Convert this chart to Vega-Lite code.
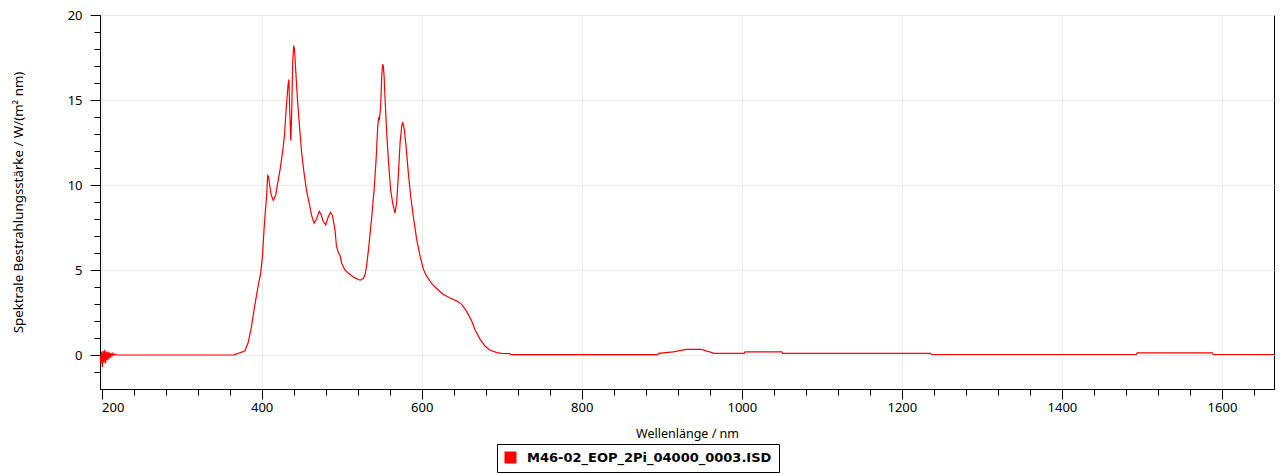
{
  "$schema": "https://vega.github.io/schema/vega-lite/v6.json",
  "width": 1174,
  "height": 374,
  "autosize": "none",
  "padding": {"left": 100, "top": 15, "right": 8, "bottom": 85},
  "background": "white",
  "config": {"view": {"stroke": "black", "strokeWidth": 1}, "font": "Noto Sans"},
  "data": {"values": [
    {"nm": 198, "v": 0}, {"nm": 199, "v": -0.5}, {"nm": 200, "v": 0.2}, {"nm": 201, "v": -0.7},
    {"nm": 202, "v": 0.25}, {"nm": 203, "v": -0.45}, {"nm": 204, "v": 0.3}, {"nm": 205, "v": -0.5},
    {"nm": 206, "v": 0.2}, {"nm": 207, "v": -0.3}, {"nm": 208, "v": 0.2}, {"nm": 209, "v": -0.25},
    {"nm": 210, "v": 0.15}, {"nm": 211, "v": -0.15}, {"nm": 212, "v": 0.1}, {"nm": 213, "v": -0.05},
    {"nm": 214, "v": 0.1}, {"nm": 215, "v": 0.0}, {"nm": 216, "v": 0.05}, {"nm": 218, "v": 0.02},
    {"nm": 220, "v": 0.0}, {"nm": 365, "v": 0.0}, {"nm": 368, "v": 0.05}, {"nm": 372, "v": 0.12},
    {"nm": 376, "v": 0.18}, {"nm": 379, "v": 0.25}, {"nm": 383, "v": 0.7}, {"nm": 387, "v": 1.6},
    {"nm": 391, "v": 2.8}, {"nm": 395, "v": 3.9}, {"nm": 398.7, "v": 4.8}, {"nm": 401, "v": 5.8},
    {"nm": 403, "v": 7.4}, {"nm": 404.5, "v": 8.4}, {"nm": 406, "v": 9.2}, {"nm": 407.5, "v": 10.55},
    {"nm": 408.5, "v": 10.5}, {"nm": 410, "v": 10.0}, {"nm": 412, "v": 9.4}, {"nm": 414.5, "v": 9.1},
    {"nm": 417.5, "v": 9.4}, {"nm": 420, "v": 10.1}, {"nm": 423, "v": 10.9}, {"nm": 426, "v": 11.9},
    {"nm": 428.5, "v": 12.9}, {"nm": 430.5, "v": 14.4}, {"nm": 433, "v": 15.9}, {"nm": 434, "v": 16.2},
    {"nm": 435, "v": 14.5}, {"nm": 436.5, "v": 12.6}, {"nm": 437.5, "v": 14.2}, {"nm": 438.8, "v": 17.2},
    {"nm": 440, "v": 18.2}, {"nm": 441, "v": 18.0}, {"nm": 442, "v": 17.2}, {"nm": 444.5, "v": 15.2},
    {"nm": 447, "v": 13.6}, {"nm": 450, "v": 11.9}, {"nm": 453, "v": 10.7}, {"nm": 456, "v": 9.7},
    {"nm": 459.5, "v": 8.9}, {"nm": 462.5, "v": 8.2}, {"nm": 465.5, "v": 7.75}, {"nm": 468.5, "v": 8.0},
    {"nm": 472, "v": 8.45}, {"nm": 474, "v": 8.3}, {"nm": 477, "v": 7.85}, {"nm": 480, "v": 7.65},
    {"nm": 483, "v": 8.1}, {"nm": 486, "v": 8.4}, {"nm": 488.5, "v": 8.2}, {"nm": 491.5, "v": 7.4},
    {"nm": 493.5, "v": 6.4}, {"nm": 496, "v": 6.0}, {"nm": 498, "v": 5.85}, {"nm": 500, "v": 5.4},
    {"nm": 504, "v": 5.0}, {"nm": 510, "v": 4.75}, {"nm": 516, "v": 4.55}, {"nm": 523, "v": 4.4},
    {"nm": 527, "v": 4.5}, {"nm": 529, "v": 4.7}, {"nm": 531, "v": 5.2}, {"nm": 533.5, "v": 6.2},
    {"nm": 537.5, "v": 8.1}, {"nm": 540.5, "v": 9.7}, {"nm": 543, "v": 11.5}, {"nm": 545, "v": 13.4},
    {"nm": 546.2, "v": 14.0}, {"nm": 547, "v": 13.8}, {"nm": 548.7, "v": 14.6}, {"nm": 550, "v": 16.4},
    {"nm": 551.2, "v": 17.1}, {"nm": 552, "v": 17.0}, {"nm": 553, "v": 16.4}, {"nm": 554.5, "v": 14.8},
    {"nm": 556.2, "v": 13.1}, {"nm": 558.3, "v": 11.5}, {"nm": 561.2, "v": 9.7}, {"nm": 563.7, "v": 8.95},
    {"nm": 566.6, "v": 8.35}, {"nm": 568.7, "v": 8.95}, {"nm": 570.7, "v": 10.5}, {"nm": 573, "v": 12.5},
    {"nm": 575, "v": 13.45}, {"nm": 576.3, "v": 13.7}, {"nm": 578.3, "v": 13.25}, {"nm": 580.4, "v": 12.3},
    {"nm": 583.3, "v": 10.7}, {"nm": 586.2, "v": 9.35}, {"nm": 589.5, "v": 8.15}, {"nm": 593.7, "v": 6.8},
    {"nm": 598, "v": 5.8}, {"nm": 602, "v": 5.05}, {"nm": 606, "v": 4.65}, {"nm": 612.5, "v": 4.2},
    {"nm": 619, "v": 3.9}, {"nm": 627, "v": 3.56}, {"nm": 635, "v": 3.37}, {"nm": 644, "v": 3.17},
    {"nm": 650, "v": 2.98}, {"nm": 656, "v": 2.58}, {"nm": 662.5, "v": 2.0}, {"nm": 666.5, "v": 1.5},
    {"nm": 673, "v": 0.92}, {"nm": 679, "v": 0.53}, {"nm": 685, "v": 0.29}, {"nm": 694, "v": 0.14},
    {"nm": 700, "v": 0.1}, {"nm": 710, "v": 0.08}, {"nm": 712, "v": 0.02}, {"nm": 895, "v": 0.02},
    {"nm": 896, "v": 0.1}, {"nm": 914, "v": 0.18}, {"nm": 931, "v": 0.33}, {"nm": 950, "v": 0.33},
    {"nm": 955, "v": 0.24}, {"nm": 960, "v": 0.18}, {"nm": 965, "v": 0.1}, {"nm": 1003, "v": 0.1},
    {"nm": 1004, "v": 0.18}, {"nm": 1050, "v": 0.18}, {"nm": 1051, "v": 0.1}, {"nm": 1236, "v": 0.1},
    {"nm": 1237, "v": 0.03}, {"nm": 1493, "v": 0.03}, {"nm": 1494, "v": 0.12}, {"nm": 1588, "v": 0.12},
    {"nm": 1589, "v": 0.03}, {"nm": 1665, "v": 0.03}
  ]},
  "mark": {"type": "line", "strokeWidth": 1.2, "clip": true},
  "encoding": {
    "x": {
      "field": "nm", "type": "quantitative",
      "scale": {"domain": [198, 1665], "nice": false, "zero": false},
      "axis": {
        "title": "Wellenlänge / nm",
        "values": [200,240,280,320,360,400,440,480,520,560,600,640,680,720,760,800,840,880,920,960,1000,1040,1080,1120,1160,1200,1240,1280,1320,1360,1400,1440,1480,1520,1560,1600,1640],
        "format": "d",
        "labelExpr": "datum.value % 200 === 0 ? datum.label : ''",
        "labelOverlap": false, "labelFlush": 5,
        "tickSize": {"condition": {"test": "datum.value % 200 === 0", "value": 10}, "value": 6},
        "gridOpacity": {"condition": {"test": "datum.value % 200 === 0", "value": 1}, "value": 0},
        "grid": true, "gridColor": "#ebebeb",
        "domainColor": "black", "tickColor": "black",
        "labelFont": "Noto Sans", "labelFontSize": 13, "labelColor": "black", "labelPadding": 2,
        "titleFont": "Noto Sans", "titleFontSize": 12.5, "titleFontWeight": "normal", "titleColor": "black",
        "titleY": 44, "titleBaseline": "middle"
      }
    },
    "y": {
      "field": "v", "type": "quantitative",
      "scale": {"domain": [-2, 20], "nice": false, "zero": false},
      "axis": {
        "title": "Spektrale Bestrahlungsstärke / W/(m² nm)",
        "values": [-1,0,1,2,3,4,5,6,7,8,9,10,11,12,13,14,15,16,17,18,19,20],
        "labelExpr": "datum.value % 5 === 0 ? datum.label : ''",
        "labelOverlap": false, "labelFlush": false,
        "tickSize": {"condition": {"test": "datum.value % 5 === 0", "value": 10}, "value": 6},
        "gridOpacity": {"condition": {"test": "datum.value % 5 === 0", "value": 1}, "value": 0},
        "grid": true, "gridColor": "#ebebeb",
        "domainColor": "black", "tickColor": "black",
        "labelFont": "Noto Sans", "labelFontSize": 13, "labelColor": "black", "labelPadding": 8,
        "titleFont": "Noto Sans", "titleFontSize": 13.3, "titleFontWeight": "normal", "titleColor": "black",
        "titleX": -82, "titleY": 187, "titleAngle": -90, "titleAlign": "center", "titleBaseline": "middle"
      }
    },
    "color": {
      "datum": "M46-02_EOP_2Pi_04000_0003.ISD", "type": "nominal",
      "scale": {"range": ["#ff0000"]},
      "legend": {
        "orient": "none", "legendX": 397, "legendY": 429, "title": null,
        "symbolType": "square", "symbolSize": 144, "symbolFillColor": "#ff0000", "symbolStrokeWidth": 0,
        "labelFont": "DejaVu Sans", "labelFontSize": 13, "labelFontWeight": "bold", "labelColor": "black",
        "labelOffset": 10, "labelLimit": 400,
        "strokeColor": "black", "fillColor": "white", "padding": 7,
        "encode": {"symbols": {"update": {"fill": {"value": "#ff0000"}, "stroke": {"value": "#ff0000"}, "strokeWidth": {"value": 0}}}}
      }
    }
  }
}
